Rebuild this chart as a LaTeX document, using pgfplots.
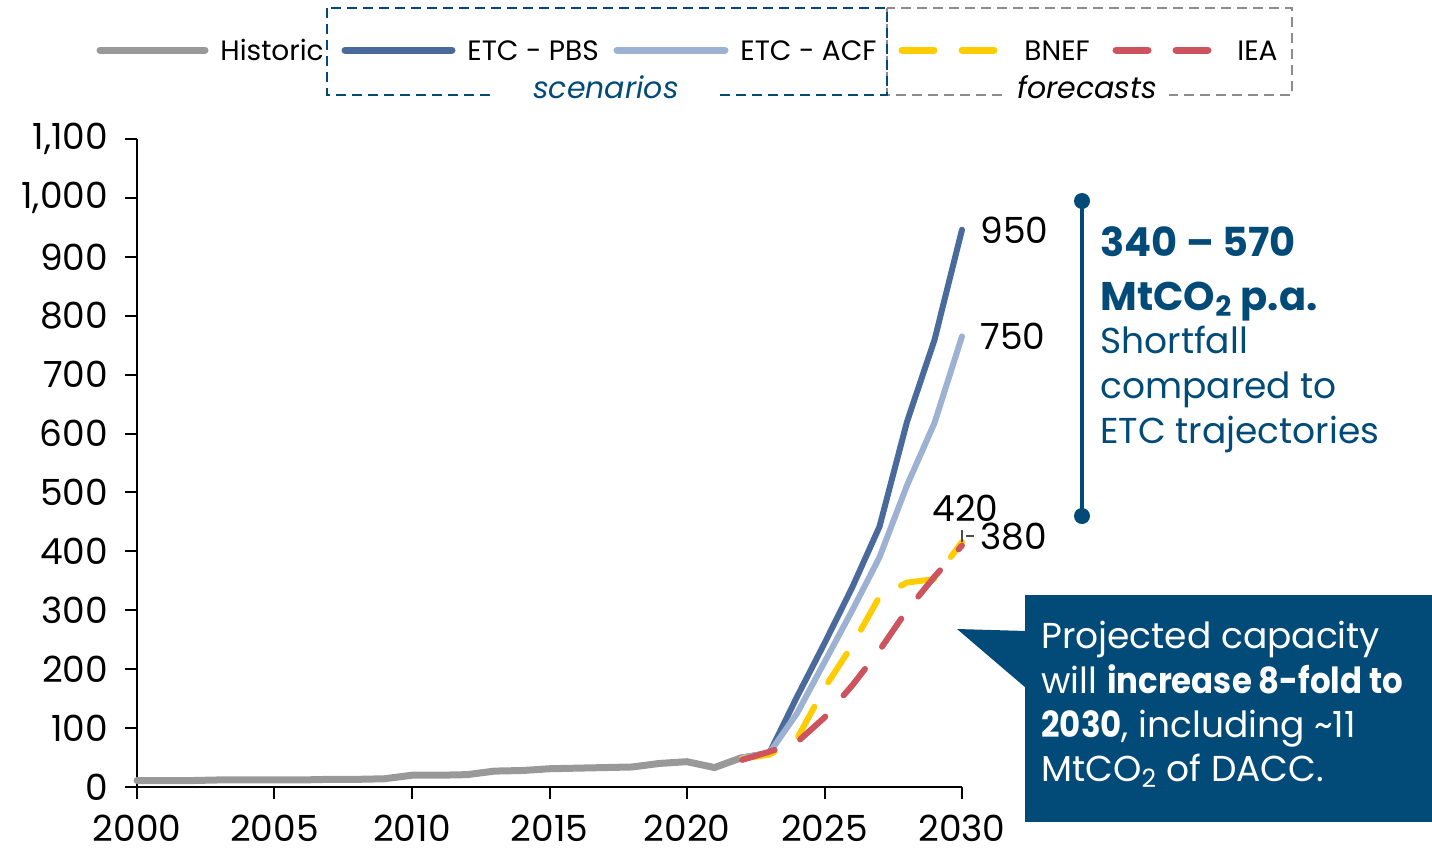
\documentclass[border=0pt]{standalone}
\usepackage{fontspec}
\setmainfont{Poppins}
\usepackage{graphicx}
\usepackage{pgfplots}
\usepackage{pgfplotstable}
\pgfplotsset{compat=1.18}

\definecolor{histgray}{HTML}{999999}
\definecolor{pbsblue}{HTML}{4A6A9B}
\definecolor{acfblue}{HTML}{9DB1D2}
\definecolor{bnefyel}{HTML}{FFCC00}
\definecolor{ieared}{HTML}{CD545E}
\definecolor{navy}{HTML}{024B79}
\definecolor{boxgray}{HTML}{8C8C8C}

% MtCO2 capture capacity, historic and projected
\pgfplotstableread{
year val
2000 11
2001 11
2002 11
2003 12
2004 12
2005 12
2006 12
2007 13
2008 13
2009 14
2010 20
2011 20
2012 21
2013 27
2014 28
2015 31
2016 32
2017 33
2018 34
2019 40
2020 43
2021 33
2022 50
}\historic

\pgfplotstableread{
year val
2022 50
2023 58
2024 153
2025 244
2026 338
2027 442
2028 620
2029 759
2030 946
}\pbs

\pgfplotstableread{
year val
2022 50
2023 58
2024 125
2025 212
2026 299
2027 390
2028 512
2029 618
2030 765
}\acf

\pgfplotstableread{
year val
2022 48
2023 55
2024 82
2025 168
2026 240
2027 323
2028 347
2029 353
2030 416
}\bnef

\pgfplotstableread{
year val
2022 46
2023 60
2024 76
2025 118
2026 172
2027 232
2028 300
2029 357
2030 410
}\iea

\newcommand{\tickfont}{\fontsize{18}{18}\selectfont}
\newcommand{\legfont}{\fontsize{14}{14}\selectfont}
\newcommand{\notefont}{\fontsize{18}{18}\selectfont}
\newcommand{\nb}[1]{\scalebox{0.9}[1]{\textbf{#1}}}

\begin{document}
\begin{tikzpicture}
\begin{axis}[at={(68.5pt,-393.5pt)}, anchor=south west,
  scale only axis, width=412.5pt, height=324pt,
  xmin=2000, xmax=2030, ymin=0, ymax=1100,
  axis lines*=left, axis line style={line width=1pt},
  tick align=outside, major tick length=6pt,
  tick style={line width=1pt,black},
  xtick={2000,2005,...,2030}, ytick={0,100,...,1100},
  scaled y ticks=false,
  /pgf/number format/assume math mode=true,
  xticklabel style={/pgf/number format/1000 sep={}, inner ysep=0.5pt, yshift=-7.5pt},
  yticklabel style={/pgf/number format/1000 sep={,}, xshift=-5pt},
  tick label style={font=\tickfont},
  clip=false]
\addplot[histgray, line width=3.5pt, line join=round, line cap=round] table[x=year,y=val] {\historic};
\addplot[pbsblue, line width=3pt, line join=round, line cap=round] table[x=year,y=val] {\pbs};
\addplot[acfblue, line width=3pt, line join=round, line cap=round] table[x=year,y=val] {\acf};
\addplot[bnefyel, line width=3pt, line join=round, line cap=round, dash pattern=on 17pt off 14pt] table[x=year,y=val] {\bnef};
\addplot[ieared, line width=3pt, line join=round, line cap=round, dash pattern=on 17pt off 14pt] table[x=year,y=val] {\iea};
\end{axis}

\begin{scope}[x=0.5pt,y=-0.5pt]
\useasboundingbox (0,0) rectangle (1432,852);

% legend groups
\draw[boxgray, line width=1.25pt, dash pattern=on 5pt off 3pt] (887,8) rectangle (1292,95);
\draw[navy, line width=1.25pt, dash pattern=on 5pt off 3pt] (327,8) rectangle (887,95);
\node[fill=white, inner xsep=20pt, inner ysep=2pt, anchor=base, text=navy, font=\fontsize{15}{15}\selectfont\itshape] at (606,98) {scenarios};
\node[fill=white, inner xsep=6pt, inner ysep=2pt, anchor=base, font=\fontsize{15}{15}\selectfont\itshape] at (1087,98) {forecasts};

\draw[histgray, line width=3.5pt, line cap=round] (100,50) -- (205,50);
\node[anchor=base west, inner sep=0pt, font=\legfont] at (220,60) {Historic};
\draw[pbsblue, line width=3.5pt, line cap=round] (345,50) -- (452,50);
\node[anchor=base west, inner sep=0pt, font=\legfont] at (467,60) {ETC - PBS};
\draw[acfblue, line width=3.5pt, line cap=round] (617,50) -- (725,50);
\node[anchor=base west, inner sep=0pt, font=\legfont] at (740,60) {ETC - ACF};
\draw[bnefyel, line width=3.5pt, line cap=round, dash pattern=on 16pt off 14pt] (902,50) -- (1010,50);
\node[anchor=base west, inner sep=0pt, font=\legfont] at (1024,60) {BNEF};
\draw[ieared, line width=3.5pt, line cap=round, dash pattern=on 16pt off 14pt] (1116,50) -- (1224,50);
\node[anchor=base west, inner sep=0pt, font=\legfont] at (1237,60) {IEA};

% end labels
\node[anchor=base west, inner sep=0pt, font=\tickfont] at (980,243) {950};
\node[anchor=base west, inner sep=0pt, font=\tickfont] at (980,349) {750};
\node[anchor=base west, inner sep=0pt, font=\tickfont] at (932,521) {420};
\node[anchor=base west, inner sep=0pt, font=\tickfont] at (980,549) {380};
\draw[black!70, line width=0.6pt] (962,530) -- (962,542);
\draw[black!70, line width=0.6pt] (966,536) -- (974,536);

% shortfall bracket
\draw[navy, line width=2pt] (1082,201) -- (1082,516);
\fill[navy] (1082,201) circle (8);
\fill[navy] (1082,516) circle (8);
\node[anchor=base west, inner sep=0pt, text=navy, font=\fontsize{20}{20}\selectfont\bfseries] at (1100,256) {340 -- 570};
\node[anchor=base west, inner sep=0pt, text=navy, font=\fontsize{20}{20}\selectfont\bfseries] at (1100,310) {MtCO\textsubscript{2} p.a.};
\node[anchor=base west, inner sep=0pt, text=navy, font=\notefont] at (1100,353) {Shortfall};
\node[anchor=base west, inner sep=0pt, text=navy, font=\notefont] at (1100,398) {compared to};
\node[anchor=base west, inner sep=0pt, text=navy, font=\notefont] at (1100,443) {ETC trajectories};

% callout
\fill[navy] (957,629) -- (1026,631) -- (1026,688) -- cycle;
\fill[navy] (1025,595) rectangle (1432,822);
\node[anchor=base west, inner sep=0pt, text=white, font=\notefont] at (1041,648) {Projected capacity};
\node[anchor=base west, inner sep=0pt, text=white, font=\notefont] at (1041,693) {will \nb{increase 8-fold to}};
\node[anchor=base west, inner sep=0pt, text=white, font=\notefont] at (1041,737) {\nb{2030}, including \textasciitilde 11};
\node[anchor=base west, inner sep=0pt, text=white, font=\notefont] at (1041,781) {MtCO\textsubscript{2} of DACC.};
\end{scope}
\end{tikzpicture}
\end{document}
